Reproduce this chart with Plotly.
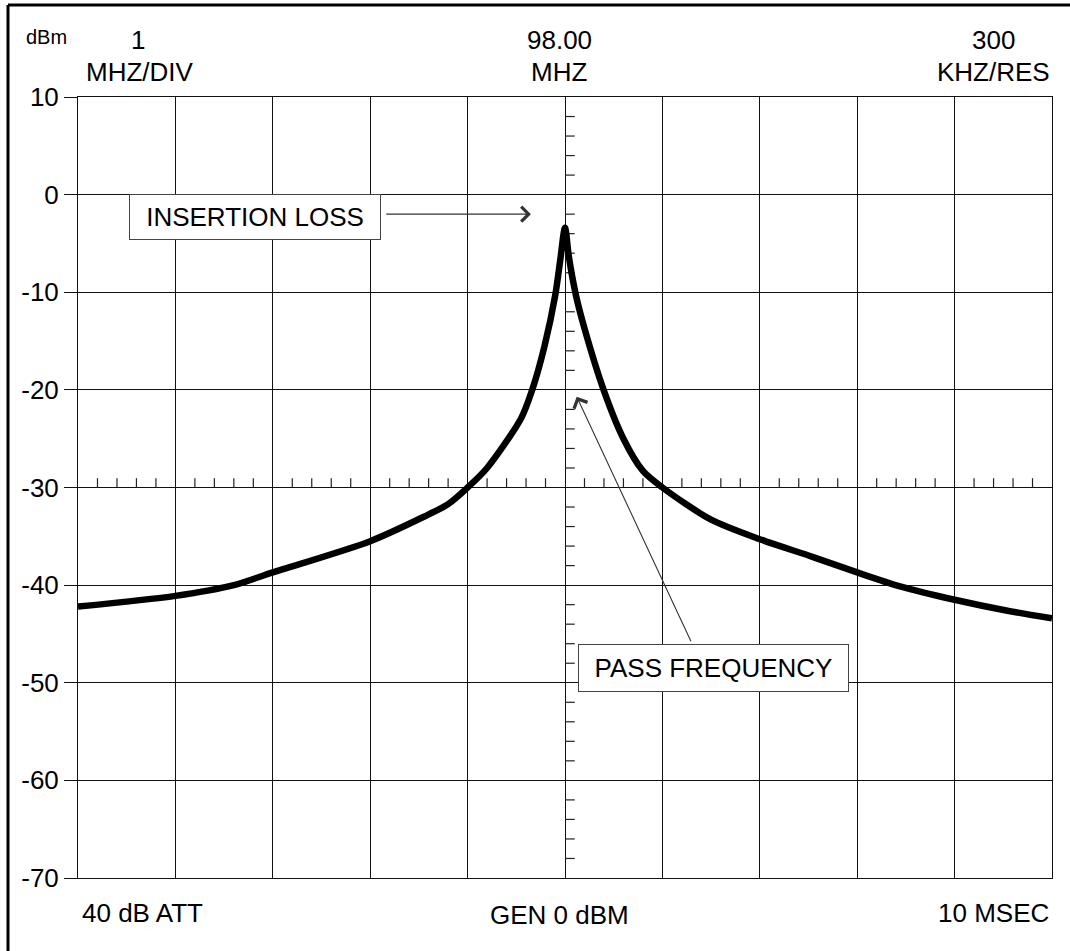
import plotly.graph_objects as go

# ---- data ----
freq_mhz = [93.0, 94.0, 94.6, 95.0, 96.0, 96.55, 96.8, 97.0, 97.2, 97.55, 97.66, 97.79, 97.9, 97.95, 98.0,
            98.04, 98.11, 98.2, 98.4, 98.6, 98.8, 99.0, 99.5, 100.0, 100.54, 101.0, 101.43, 102.0, 102.53, 103.0]
level_dbm = [-42.2, -41.1, -40.0, -38.7, -35.5, -33.0, -31.7, -30.0, -28.0, -22.9, -20.1, -15.5, -10.3, -6.8, -3.4,
             -6.4, -10.2, -13.7, -20.1, -25.0, -28.3, -30.0, -33.3, -35.3, -37.1, -38.7, -40.1, -41.5, -42.6, -43.4]

y_tick_values = [10, 0, -10, -20, -30, -40, -50, -60, -70]
y_tick_text = ["10", "0", "-10", "-20", "-30", "-40", "-50", "-60", "-70"]
x_grid_values = [93, 94, 95, 96, 97, 98, 99, 100, 101, 102, 103]
center_freq = 98.0
center_level = -30.0

top_labels = ["dBm", "1", "MHZ/DIV", "98.00", "MHZ", "300", "KHZ/RES"]
bottom_labels = ["40 dB ATT", "GEN 0 dBM", "10 MSEC"]
callouts = ["INSERTION LOSS", "PASS FREQUENCY"]

FONT = "Liberation Sans, Arial, sans-serif"
W, H = 1084, 960             # slightly larger than the window; the overflow is hidden
ML, MT = 78, 97              # plot area at page px 78..1052 x 97..878
PW, PH = 974, 781
MR = W - ML - PW
MB = H - MT - PH


def px_x(px):
    return (px - ML) / PW


def px_y(py):
    return (MT + PH - py) / PH


fig = go.Figure()

# minor graticule ticks on the centre lines
tx, ty = [], []
for i in range(len(y_tick_values) - 1):
    top = y_tick_values[i]
    for k in range(1, 5):
        yv = top - 2 * k
        tx += [center_freq, center_freq + 0.1, None]
        ty += [yv, yv, None]
for i in range(len(x_grid_values) - 1):
    left = x_grid_values[i]
    for k in range(1, 5):
        xv = left + 0.2 * k
        tx += [xv, xv, None]
        ty += [center_level, center_level + 0.95, None]
fig.add_trace(go.Scatter(x=tx, y=ty, mode="lines", line=dict(color="#222", width=1.2),
                         hoverinfo="skip", showlegend=False))

fig.add_trace(go.Scatter(x=freq_mhz, y=level_dbm, mode="lines",
                         line=dict(color="black", width=6.5, shape="spline", smoothing=0.8),
                         showlegend=False))

fig.update_xaxes(range=[93, 103], tickvals=x_grid_values, showticklabels=False, ticks="",
                 showgrid=True, gridcolor="#111", gridwidth=1, zeroline=False,
                 showline=True, linecolor="#111", linewidth=1, mirror=True)
fig.update_yaxes(range=[-70, 10], tickvals=y_tick_values, ticktext=y_tick_text, ticks="outside", ticklen=13,
                 tickcolor="#111", tickwidth=1, tickfont=dict(family=FONT, size=26, color="black"),
                 showgrid=True, gridcolor="#111", gridwidth=1, zeroline=False,
                 showline=True, linecolor="#111", linewidth=1, mirror=True)

ann = []
txt = dict(family=FONT, size=26, color="black")
ann.append(dict(text=top_labels[0], x=px_x(24), y=px_y(37), xanchor="left", yanchor="middle",
                font=dict(family=FONT, size=20, color="black")))
for t, px, py in [(top_labels[1], 138, 40), (top_labels[2], 140, 72), (top_labels[3], 559, 40),
                  (top_labels[4], 559, 72), (top_labels[5], 993, 40), (top_labels[6], 993, 72)]:
    ann.append(dict(text=t, x=px_x(px), y=px_y(py), xanchor="center", yanchor="middle", font=txt))
ann.append(dict(text=bottom_labels[0], x=px_x(80), y=px_y(913), xanchor="left", yanchor="middle", font=txt))
ann.append(dict(text=bottom_labels[1], x=px_x(559), y=px_y(915), xanchor="center", yanchor="middle", font=txt))
ann.append(dict(text=bottom_labels[2], x=px_x(1051), y=px_y(913), xanchor="right", yanchor="middle", font=txt))
for a in ann:
    a.update(xref="paper", yref="paper", showarrow=False)
    fig.add_annotation(**a)

# callout boxes
fig.add_annotation(text=callouts[0], x=px_x(255), y=px_y(217), xref="paper", yref="paper",
                   xanchor="center", yanchor="middle",
                   showarrow=False, font=txt, bgcolor="white", bordercolor="#444", borderwidth=1,
                   width=246, height=40, borderpad=2)
fig.add_annotation(text=callouts[1], x=px_x(713), y=px_y(668), xref="paper", yref="paper",
                   xanchor="center", yanchor="middle",
                   showarrow=False, font=txt, bgcolor="white", bordercolor="#444", borderwidth=1,
                   width=265, height=42, borderpad=2)
# arrows
fig.add_annotation(text="", x=97.65, y=-2.0, ax=96.15, ay=-2.0, xref="x", yref="y", axref="x", ayref="y",
                   showarrow=True, arrowhead=4, arrowsize=2.6, arrowwidth=1.1, arrowcolor="#333")
fig.add_annotation(text="", x=98.12, y=-20.7, ax=99.3, ay=-45.9, xref="x", yref="y", axref="x", ayref="y",
                   showarrow=True, arrowhead=4, arrowsize=2.6, arrowwidth=1.1, arrowcolor="#333")

# outer frame (top and left edges; the others fall outside the picture)
frame = dict(color="black", width=3)
fig.add_shape(type="line", xref="paper", yref="paper", x0=px_x(8), x1=px_x(W), y0=px_y(5), y1=px_y(5),
              line=frame, layer="below")
fig.add_shape(type="line", xref="paper", yref="paper", x0=px_x(8), x1=px_x(8), y0=px_y(5), y1=px_y(H),
              line=frame, layer="below")

fig.update_layout(width=W, height=H, margin=dict(l=ML, r=MR, t=MT, b=MB),
                  paper_bgcolor="white", plot_bgcolor="white", showlegend=False)

fig.write_html("out.html", config={"displayModeBar": False},
               post_script="document.body.style.margin='0';document.body.style.overflow='hidden';"
                           "document.documentElement.style.overflow='hidden';")
